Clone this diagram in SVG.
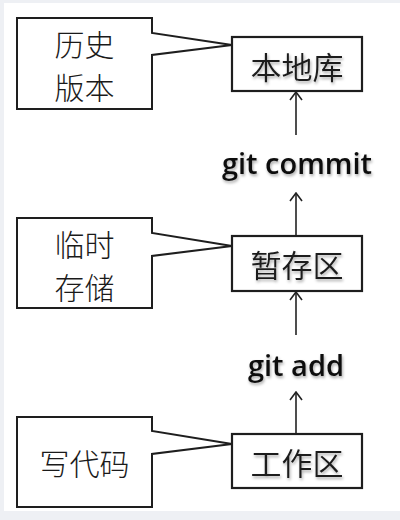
<svg xmlns="http://www.w3.org/2000/svg" width="400" height="520" viewBox="0 0 400 520">
<defs>
<style>
.frame{fill:#ffffff}
.callout{fill:#ffffff;stroke:#1e1e1e;stroke-width:2;stroke-linejoin:miter}
.box{fill:#ffffff;stroke:#1e1e1e;stroke-width:2.2}
.cjk{font-family:"Noto Sans CJK SC","Noto Sans",sans-serif;font-weight:350;font-size:31px;fill:#1a1a1a;text-anchor:middle;dominant-baseline:central}
.note{font-size:30px;font-weight:300}
.cmd{font-family:"Open Sans","Liberation Sans",sans-serif;font-weight:600;font-size:29px;fill:#111;text-anchor:middle}
.conn{stroke:#222;stroke-width:1.6;fill:none}
.shadow{filter:url(#sh)}
</style>
<filter id="sh" x="-20%" y="-40%" width="140%" height="180%">
<feDropShadow dx="1" dy="2" stdDeviation="1.5" flood-color="#000" flood-opacity="0.35"/>
</filter>
<marker id="ah" viewBox="0 0 10 14" refX="9" refY="7" markerWidth="10" markerHeight="14" markerUnits="userSpaceOnUse" orient="auto">
<path d="M1,1 L9,7 L1,13" fill="none" stroke="#222" stroke-width="1.6"/>
</marker>
</defs>
<rect x="0" y="0" width="400" height="520" fill="#eef0f4"/>
<rect class="frame" x="4" y="3" width="396" height="508"/>

<g id="note-history">
<path class="callout" d="M17,18 H152 V33 L232,45 L152,55 V109 H17 Z"/>
<text class="cjk note" x="84.5" y="43">历史</text>
<text class="cjk note" x="84.5" y="86">版本</text>
</g>
<g id="node-repo">
<rect class="box" x="232" y="37" width="130" height="54"/>
<text class="cjk shadow" x="297" y="65">本地库</text>
</g>

<g id="note-temp">
<path class="callout" d="M17,218 H152 V233 L232,246 L152,256 V308 H17 Z"/>
<text class="cjk note" x="84.5" y="243">临时</text>
<text class="cjk note" x="84.5" y="286">存储</text>
</g>
<g id="node-stage">
<rect class="box" x="232" y="236" width="130" height="55"/>
<text class="cjk shadow" x="297" y="263">暂存区</text>
</g>

<g id="note-code">
<path class="callout" d="M17,417 H152 V431 L232,444 L152,454 V507 H17 Z"/>
<text class="cjk note" x="84.5" y="462">写代码</text>
</g>
<g id="node-work">
<rect class="box" x="232" y="434" width="130" height="54"/>
<text class="cjk shadow" x="297" y="461">工作区</text>
</g>

<g id="label-commit">
<text class="cmd shadow" x="297" y="174">git commit</text>
</g>
<g id="label-add">
<text class="cmd shadow" x="296" y="376">git add</text>
</g>

<g id="connectors">
<line class="conn" x1="296" y1="135" x2="296" y2="92" marker-end="url(#ah)"/>
<line class="conn" x1="296" y1="235" x2="296" y2="193" marker-end="url(#ah)"/>
<line class="conn" x1="296" y1="335" x2="296" y2="292" marker-end="url(#ah)"/>
<line class="conn" x1="296" y1="433" x2="296" y2="392" marker-end="url(#ah)"/>
</g>
</svg>
